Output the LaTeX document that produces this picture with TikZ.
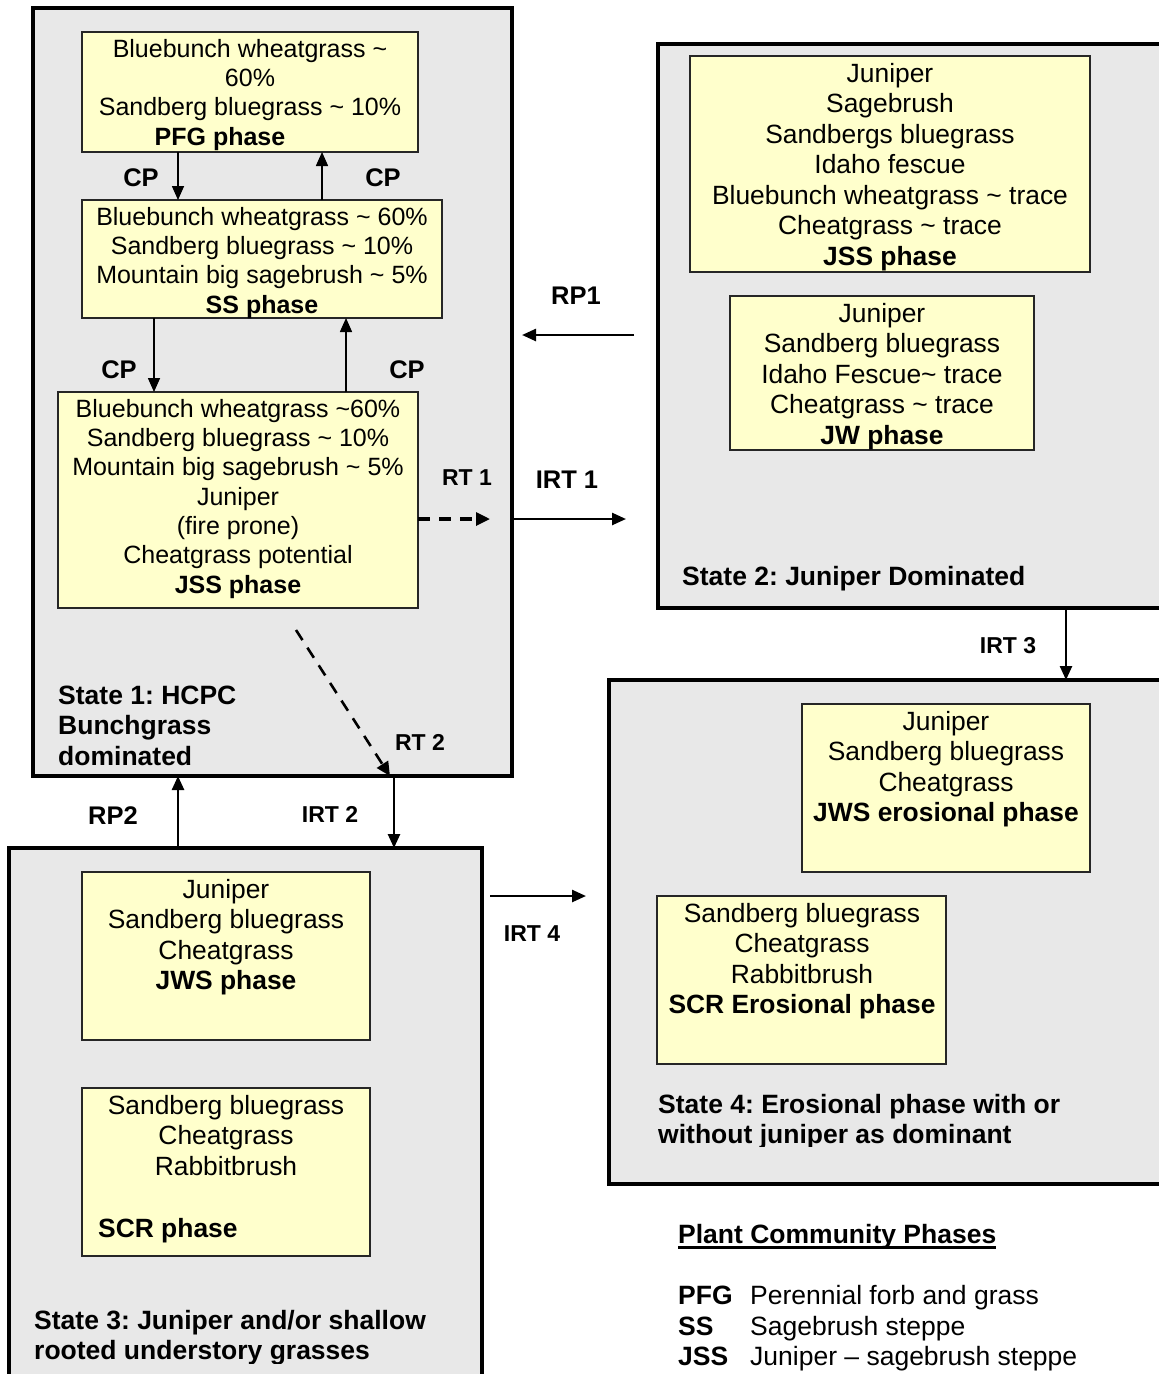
\documentclass[tikz,border=0pt]{standalone}
\usepackage{fontspec}
\setmainfont{Liberation Sans}
\usetikzlibrary{arrows.meta,fit}
\definecolor{stategray}{HTML}{E8E8E8}
\definecolor{phaseyellow}{HTML}{FFFFCC}
\frenchspacing
\begin{document}
\begin{tikzpicture}[x=1pt,y=-1pt,
  statebox/.style={draw=black, line width=3.2pt, fill=stategray, inner sep=0pt, outer sep=0pt},
  phasebox/.style={draw=black!85, line width=1.6pt, fill=phaseyellow, inner sep=0pt, outer sep=0pt},
  boxtext/.style={align=center, inner sep=0pt, anchor=north, font=\fontsize{25}{29.3}\selectfont},
  boxtextL/.style={align=center, inner sep=0pt, anchor=north, font=\fontsize{26.4}{30.5}\selectfont},
  statelabel/.style={align=left, inner sep=0pt, anchor=north west, font=\bfseries\fontsize{26.5}{30.5}\selectfont},
  tlabel/.style={inner sep=0pt, font=\bfseries\fontsize{25.5}{30}\selectfont},
  tlabelS/.style={inner sep=0pt, font=\bfseries\fontsize{23}{28}\selectfont},
  legtext/.style={inner sep=0pt, anchor=base west, font=\fontsize{26.5}{30.5}\selectfont},
  flow/.style={line width=2.5pt, -{Triangle[length=14pt,width=12pt]}},
  cpflow/.style={line width=1.6pt, -{Triangle[length=14pt,width=12pt]}},
  rtflow/.style={line width=3.2pt, dash pattern=on 12pt off 9pt, -{Triangle[length=14pt,width=13pt]}},
]
\useasboundingbox (0,0) rectangle (1159,1374);
\clip (0,0) rectangle (1159,1374);

% ---------- state boxes ----------
\node[statebox, fit={(33,8) (512,776)}] (s1) {};
\node[statebox, fit={(658,44) (1180,608)}] (s2) {};
\node[statebox, fit={(609,680) (1180,1184)}] (s4) {};
\node[statebox, fit={(9,848) (482,1400)}] (s3) {};

% ---------- phase boxes ----------
\node[phasebox, fit={(82,32) (418,152)}] (pfg) {};
\node[phasebox, fit={(82,200) (442,318)}] (ss) {};
\node[phasebox, fit={(58,392) (418,608)}] (jss1) {};
\node[phasebox, fit={(690,56) (1090,272)}] (jss2) {};
\node[phasebox, fit={(730,296) (1034,450)}] (jw) {};
\node[phasebox, fit={(82,872) (370,1040)}] (jws) {};
\node[phasebox, fit={(82,1088) (370,1256)}] (scr) {};
\node[phasebox, fit={(802,704) (1090,872)}] (jwse) {};
\node[phasebox, fit={(657,896) (946,1064)}] (scre) {};

% ---------- phase texts ----------
\node[boxtext] (pfgtext) at (250,39) {Bluebunch wheatgrass \textasciitilde\\60\%\\Sandberg bluegrass \textasciitilde{} 10\%\\\textbf{PFG phase}\hspace*{60pt}};
\node[boxtext] (sstext) at (262,207) {Bluebunch wheatgrass \textasciitilde{} 60\%\\Sandberg bluegrass \textasciitilde{} 10\%\\Mountain big sagebrush \textasciitilde{} 5\%\\\textbf{SS phase}};
\node[boxtext] (jss1text) at (238,399) {Bluebunch wheatgrass \textasciitilde60\%\\Sandberg bluegrass \textasciitilde{} 10\%\\Mountain big sagebrush \textasciitilde{} 5\%\\Juniper\\(fire prone)\\Cheatgrass potential\\\textbf{JSS phase}};
\node[boxtextL] (jss2text) at (890,62.7) {Juniper\\Sagebrush\\Sandbergs bluegrass\\Idaho fescue\\Bluebunch wheatgrass \textasciitilde{} trace\\Cheatgrass \textasciitilde{} trace\\\textbf{JSS phase}};
\node[boxtextL] (jwtext) at (882,302.7) {Juniper\\Sandberg bluegrass\\Idaho Fescue\textasciitilde{} trace\\Cheatgrass \textasciitilde{} trace\\\textbf{JW phase}};
\node[boxtextL] (jwstext) at (226,878.7) {Juniper\\Sandberg bluegrass\\Cheatgrass\\\textbf{JWS phase}};
\node[boxtextL] (scrtext) at (226,1094.7) {Sandberg bluegrass\\Cheatgrass\\Rabbitbrush};
\node[legtext, font=\bfseries\fontsize{26.4}{30.5}\selectfont] (scrname) at (98,1237) {SCR phase};
\node[boxtextL] (jwsetext) at (946,710.7) {Juniper\\Sandberg bluegrass\\Cheatgrass\\\textbf{JWS erosional phase}};
\node[boxtextL] (scretext) at (802,902.7) {Sandberg bluegrass\\Cheatgrass\\Rabbitbrush\\\textbf{SCR Erosional phase}};

% ---------- state labels ----------
\node[statelabel] (s1label) at (58,685.7) {State 1: HCPC\\Bunchgrass\\dominated};
\node[statelabel, anchor=base west] (s2label) at (682,585) {State 2: Juniper Dominated};
\begin{scope}
  \clip (0,0) rectangle (1159,1363);
  \node[statelabel] (s3label) at (34,1309.7) {State 3: Juniper and/or shallow\\rooted understory grasses};
\end{scope}
\begin{scope}
  \clip (0,0) rectangle (1159,1146);
  \node[statelabel] (s4label) at (658,1093.7) {State 4: Erosional phase with or\\without juniper as dominant};
\end{scope}

% ---------- column helpers and free ends ----------
\coordinate (c154) at (154,0);
\coordinate (c178) at (178,0);
\coordinate (c322) at (322,0);
\coordinate (c346) at (346,0);
\coordinate (c394) at (394,0);
\coordinate (c1066) at (1066,0);
\coordinate (r519) at (0,519);
\coordinate (rt1end) at (490,519);
\coordinate (irt1end) at (626,519);
\coordinate (rp1start) at (634,335);
\coordinate (rp1end) at (522,335);
\coordinate (rt2start) at (296,630);
\coordinate (rt2end) at (390,776);
\coordinate (irt4start) at (490,896);
\coordinate (irt4end) at (586,896);

% ---------- community pathways ----------
\draw[cpflow] (pfg.south -| c178) -- (ss.north -| c178);
\draw[cpflow] (ss.north -| c322) -- (pfg.south -| c322);
\draw[cpflow] (ss.south -| c154) -- (jss1.north -| c154);
\draw[cpflow] (jss1.north -| c346) -- (ss.south -| c346);

% ---------- transitions ----------
\draw[rtflow] (jss1.east |- r519) -- (rt1end);
\draw[flow] (s1.east |- r519) -- (irt1end);
\draw[flow] (rp1start) -- (rp1end);
\draw[rtflow, line width=2.6pt] (rt2start) -- (rt2end);
\draw[flow] (s1.south -| c394) -- (s3.north -| c394);
\draw[flow] (s3.north -| c178) -- (s1.south -| c178);
\draw[flow] (s2.south -| c1066) -- (s4.north -| c1066);
\draw[flow] (irt4start) -- (irt4end);

% ---------- labels ----------
\node[tlabel] (cp1) at (141,178) {CP};
\node[tlabel] (cp2) at (383,178) {CP};
\node[tlabel] (cp3) at (119,370) {CP};
\node[tlabel] (cp4) at (407,370) {CP};
\node[tlabel] (rp1) at (576,296) {RP1};
\node[tlabelS] (rt1) at (467,478) {RT 1};
\node[tlabel] (irt1) at (567,480) {IRT 1};
\node[tlabelS] (rt2) at (420,742) {RT 2};
\node[tlabelS] (irt3) at (1008,646) {IRT 3};
\node[tlabel] (rp2) at (113,816) {RP2};
\node[tlabelS] (irt2) at (330,814) {IRT 2};
\node[tlabelS] (irt4) at (532,934) {IRT 4};

% ---------- legend ----------
\node[legtext, font=\bfseries\fontsize{26.5}{30.5}\selectfont] (legtitle) at (678,1243) {Plant Community Phases};
\draw[line width=2.4pt] ([yshift=-4.5pt]legtitle.base west) -- ([yshift=-4.5pt]legtitle.base east);
\node[legtext, font=\bfseries\fontsize{26.5}{30.5}\selectfont] (abpfg) at (678,1304) {PFG};
\node[legtext, font=\bfseries\fontsize{26.5}{30.5}\selectfont] (abss) at (678,1335) {SS};
\node[legtext, font=\bfseries\fontsize{26.5}{30.5}\selectfont] (abjss) at (678,1365) {JSS};
\node[legtext] (dspfg) at (750,1304) {Perennial forb and grass};
\node[legtext] (dsss) at (750,1335) {Sagebrush steppe};
\node[legtext] (dsjss) at (750,1365) {Juniper – sagebrush steppe};
\end{tikzpicture}
\end{document}
